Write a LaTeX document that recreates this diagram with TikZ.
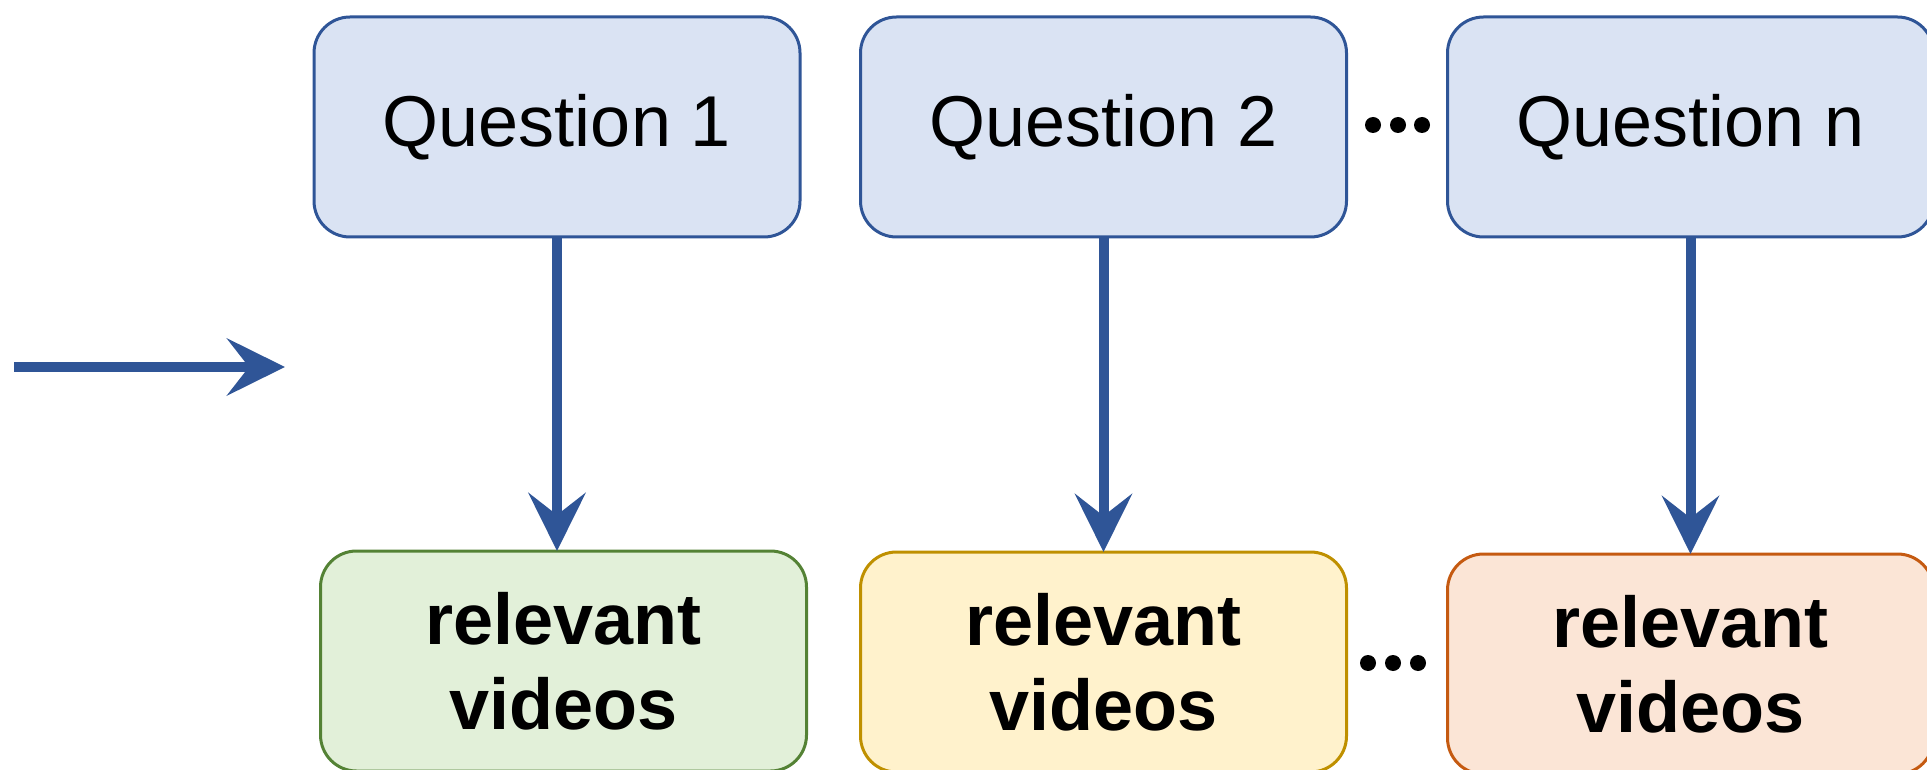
\documentclass[tikz,border=0pt]{standalone}
\usepackage{fontspec}
\setmainfont{Liberation Sans}
\usetikzlibrary{arrows.meta}

\definecolor{qfill}{HTML}{DAE3F3}
\definecolor{qline}{HTML}{2F5597}
\definecolor{gfill}{HTML}{E2F0D9}
\definecolor{gline}{HTML}{548235}
\definecolor{yfill}{HTML}{FFF2CC}
\definecolor{yline}{HTML}{BF9000}
\definecolor{ofill}{HTML}{FBE5D6}
\definecolor{oline}{HTML}{C55A11}

\tikzset{
	card/.style={rounded corners=18pt, line width=1.5pt, minimum width=243pt, minimum height=110pt, inner sep=0pt, outer sep=0pt},
	qbox/.style={card, draw=qline, fill=qfill, font=\fontsize{36}{42.5}\selectfont},
	vbox/.style={card, align=center, font=\fontsize{36}{42.5}\selectfont\bfseries},
	flow/.style={draw=qline, line width=5pt, -{Stealth[length=29pt,width=28.5pt,inset=11pt]}},
}

\begin{document}
\begin{tikzpicture}[x=0.5pt,y=0.5pt,yscale=-1,xscale=1]
		\useasboundingbox (0,0) rectangle (1927,770);
		% questions
		\node [qbox] (q1) at (557,127) {Question 1};
		\node [qbox] (q2) at (1103.5,127) {Question 2};
		\node [qbox] (qn) at (1690.5,127) {Question n};
		% retrieved videos
		\node [vbox, draw=gline, fill=gfill] (v1) at (563.5,661) {relevant\\videos};
		\node [vbox, draw=yline, fill=yfill] (v2) at (1103.5,662) {relevant\\videos};
		\node [vbox, draw=oline, fill=ofill] (vn) at (1690.5,664) {relevant\\videos};
		% incoming arrow
		\coordinate (in) at (14,367);
		\coordinate (out) at (285,367);
		\draw [flow] (in) -- (out);
		\draw [flow] (q1.south) -- (q1.south |- v1.north);
		\draw [flow] (q2.south) -- (q2.south |- v2.north);
		\draw [flow] (qn.south) -- (qn.south |- vn.north);
		% ellipses
		\fill (1373,125) circle (8);
		\fill (1398,125) circle (8);
		\fill (1422,125) circle (8);
		\fill (1368,663) circle (8);
		\fill (1393,663) circle (8);
		\fill (1418,663) circle (8);
\end{tikzpicture}
\end{document}
